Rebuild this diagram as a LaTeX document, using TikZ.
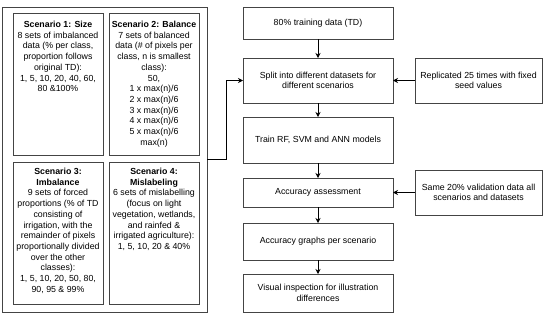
\documentclass[tikz,border=0pt]{standalone}
\usepackage{fontspec}
\setmainfont{Liberation Sans}
\usetikzlibrary{arrows.meta}
\definecolor{edge}{HTML}{444444}
\begin{document}
\begin{tikzpicture}[x=1pt,y=-1pt,
  font=\fontsize{8.8}{10.7}\selectfont,
  box/.style={draw=edge, line width=0.7pt, rectangle, inner sep=0pt, outer sep=0pt},
  txt/.style={align=center, inner sep=0pt},
  arr/.style={draw=black, line width=0.7pt, -{Stealth[length=5pt,width=5pt]}}]
\useasboundingbox (0,0) rectangle (550,319);
% left group
\node[box, minimum width=205pt, minimum height=305pt] (outer) at (104.5,159.5) {};
\node[box, minimum width=90pt, minimum height=142pt] (s1) at (58,84) {};
\node[box, minimum width=90pt, minimum height=142pt] (s2) at (154,84) {};
\node[box, minimum width=90pt, minimum height=142pt] (s3) at (58,233) {};
\node[box, minimum width=90pt, minimum height=142pt] (s4) at (154,233) {};
\node[txt, anchor=north] (t1) at ([yshift=-8pt]s1.north) {\textbf{Scenario 1: Size}\\8 sets of imbalanced\\data (\% per class,\\proportion follows\\original TD):\\1, 5, 10, 20, 40, 60,\\80 \&100\%};
\node[txt, anchor=north] (t2) at ([yshift=-8pt]s2.north) {\textbf{Scenario 2: Balance}\\7 sets of balanced\\data (\# of pixels per\\class, n is smallest\\class):\\50,\\1 x max(n)/6\\2 x max(n)/6\\3 x max(n)/6\\4 x max(n)/6\\5 x max(n)/6\\max(n)};
\node[txt, anchor=north] (t3) at ([yshift=-6pt]s3.north) {\textbf{Scenario 3:}\\\textbf{Imbalance}\\9 sets of forced\\proportions (\% of TD\\consisting of\\irrigation, with the\\remainder of pixels\\proportionally divided\\over the other\\classes):\\1, 5, 10, 20, 50, 80,\\90, 95 \& 99\%};
\node[txt, anchor=north] (t4) at ([yshift=-6pt]s4.north) {\textbf{Scenario 4:}\\\textbf{Mislabeling}\\6 sets of mislabelling\\(focus on light\\vegetation, wetlands,\\and rainfed \&\\irrigated agriculture):\\1, 5, 10, 20 \& 40\%};
% right flow
\node[box, minimum width=150pt, minimum height=32pt, txt] (td) at (318,23) {80\% training data (TD)};
\node[box, minimum width=150pt, minimum height=45pt, txt] (split) at (318,80.5) {Split into different datasets for\\different scenarios};
\node[box, minimum width=150pt, minimum height=46pt, txt] (train) at (318,140) {Train RF, SVM and ANN models};
\node[box, minimum width=150pt, minimum height=29pt, txt] (acc) at (318,192.5) {Accuracy assessment};
\node[box, minimum width=150pt, minimum height=37pt, txt] (graphs) at (318,241.5) {Accuracy graphs per scenario};
\node[box, minimum width=150pt, minimum height=38pt, txt] (vis) at (318,293) {Visual inspection for illustration\\differences};
\node[box, minimum width=127pt, minimum height=45pt, txt] (rep) at (478.5,80.5) {Replicated 25 times with fixed\\seed values};
\node[box, minimum width=127pt, minimum height=45pt, txt] (same) at (478.5,192.5) {Same 20\% validation data all\\scenarios and datasets};
% connectors
\coordinate (bend) at (226,159.5);
\draw[arr] (outer.east) -- (bend) |- (split.west);
\draw[arr] (td) -- (split);
\draw[arr] (split) -- (train);
\draw[arr] (train) -- (acc);
\draw[arr] (acc) -- (graphs);
\draw[arr] (graphs) -- (vis);
\draw[arr] (rep) -- (split);
\draw[arr] (same) -- (acc);
\end{tikzpicture}
\end{document}
